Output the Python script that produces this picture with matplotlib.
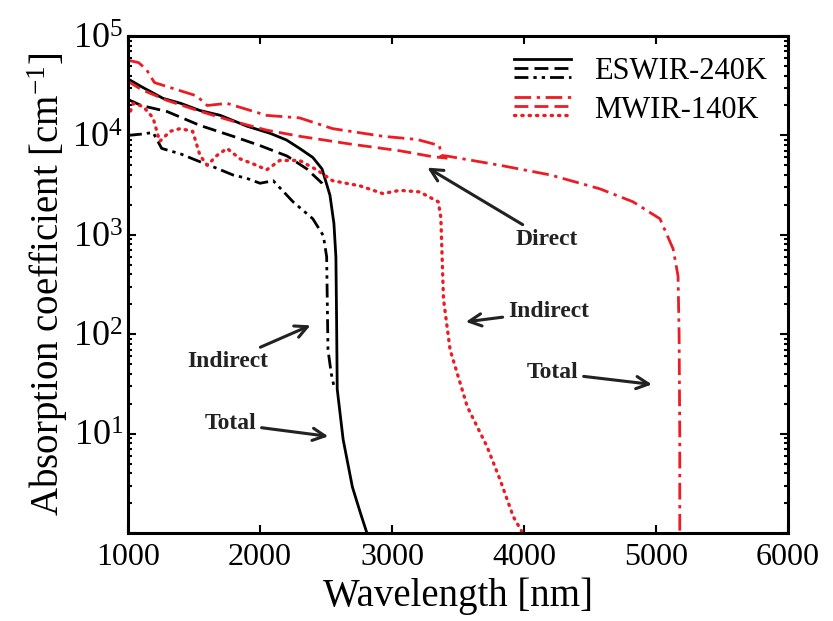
import matplotlib
matplotlib.use("Agg")
import matplotlib.pyplot as plt
from matplotlib.lines import Line2D
from matplotlib.legend_handler import HandlerBase
from matplotlib.ticker import LogLocator, FixedLocator, NullFormatter

plt.rcParams['font.family'] = 'Liberation Serif'
plt.rcParams['mathtext.fontset'] = 'custom'
plt.rcParams['mathtext.rm'] = 'Liberation Serif'
plt.rcParams['mathtext.it'] = 'Liberation Serif:italic'
plt.rcParams['mathtext.bf'] = 'Liberation Serif:bold'

RED = '#ec1c24'

# ESWIR-240K (black)
esw_total_x = [1000, 1100, 1265, 1400, 1545, 1700, 1900, 2076, 2200, 2300, 2400, 2470,
               2530, 2560, 2575, 2580, 2585, 2630, 2700, 2760, 2810]
esw_total_y = [37000, 31000, 23600, 21000, 17800, 15900, 12400, 10500, 9000, 7400, 6000, 4600,
               2500, 1300, 600, 150, 28, 8.7, 2.9, 1.6, 1.0]
esw_direct_x = [1000, 1100, 1295, 1545, 1795, 2000, 2205, 2355, 2470, 2490]
esw_direct_y = [23000, 20000, 17400, 12600, 9800, 7900, 6200, 4600, 3300, 3000]
esw_indirect_x = [1000, 1100, 1190, 1255, 1400, 1520, 1650, 1795, 1900, 2000, 2100, 2250,
                  2400, 2480, 2505, 2510, 2515, 2540, 2560]
esw_indirect_y = [10000, 10300, 10700, 7400, 6500, 5600, 4800, 4000, 3700, 3300, 3500, 2150,
                  1450, 980, 600, 200, 70, 40, 30]

# MWIR-140K (red)
mw_total_x = [1000, 1080, 1140, 1200, 1340, 1520, 1600, 1750, 2050, 2300, 2550, 2930, 3190,
              3360, 3370, 3415, 3820, 4200, 4575, 4825, 5030, 5130, 5167, 5175, 5180, 5180]
mw_total_y = [57000, 54000, 46000, 34000, 29700, 25000, 20000, 21000, 15900, 15000, 11700,
              9800, 9100, 7900, 6300, 6200, 5000, 4000, 2900, 2150, 1450, 720, 385, 100, 10, 1.0]
mw_direct_x = [1000, 1100, 1295, 1545, 1795, 2050, 2300, 2680, 3060, 3310, 3420]
mw_direct_y = [35000, 29000, 22500, 17500, 13900, 11300, 9800, 8200, 7000, 6100, 5900]
mw_indirect_x = [1000, 1040, 1115, 1190, 1240, 1320, 1395, 1490, 1545, 1600, 1675, 1750,
                 1850, 1975, 2050, 2150, 2300, 2430, 2550, 2760, 2930, 3060, 3210, 3350,
                 3370, 3390, 3440, 3570, 3720, 3820, 3920, 3990]
mw_indirect_y = [15000, 21000, 19500, 15000, 8700, 11000, 11700, 11000, 6300, 5000, 6300, 7400,
                 5800, 5000, 4500, 5600, 5600, 4500, 3500, 3100, 2600, 2800, 2700, 2150,
                 1500, 225, 70, 18.7, 7.4, 3.4, 1.45, 1.0]

DASH = (0, (5, 2.2))
DASHDOT = (0, (6, 2, 1.2, 2))
DASHDOTDOT = (0, (5, 1.8, 1.2, 1.8, 1.2, 1.8))
DOT = (0, (0.4, 1.8))


class HandlerStack(HandlerBase):
    """Draw the line styles of a tuple of lines stacked one above the other."""
    def create_artists(self, legend, orig_handle, xdescent, ydescent,
                       width, height, fontsize, trans):
        artists = []
        for i, h in enumerate(orig_handle):
            y = height * (0.95 - 0.42 * i) - ydescent
            ln = Line2D([-xdescent, -xdescent + width], [y, y],
                        color=h.get_color(), linewidth=h.get_linewidth(),
                        dash_capstyle=h.get_dash_capstyle())
            pat = h._unscaled_dash_pattern
            ln.set_linestyle(pat if pat[1] else '-')
            ln.set_transform(trans)
            artists.append(ln)
        return artists


fig = plt.figure(figsize=(8.33, 6.21), dpi=100)
ax = fig.add_axes([128 / 833, 1 - 533 / 621, 660 / 833, 497 / 621])

lw = 2.0
l1, = ax.plot(esw_total_x, esw_total_y, color='black', lw=lw, ls='-')
l2, = ax.plot(esw_direct_x, esw_direct_y, color='black', lw=lw, ls=DASH)
l3, = ax.plot(esw_indirect_x, esw_indirect_y, color='black', lw=lw, ls=DASHDOTDOT)
r1, = ax.plot(mw_total_x, mw_total_y, color=RED, lw=lw, ls=DASHDOT)
r2, = ax.plot(mw_direct_x, mw_direct_y, color=RED, lw=lw, ls=DASH)
r3, = ax.plot(mw_indirect_x, mw_indirect_y, color=RED, lw=lw + 0.4, ls=DOT,
              dash_capstyle='round')

ax.set_yscale('log')
ax.set_xlim(1000, 6000)
ax.set_ylim(1, 1e5)
ax.set_xticks([1000, 2000, 3000, 4000, 5000, 6000])
ax.yaxis.set_major_locator(FixedLocator([1, 10, 100, 1000, 1e4, 1e5]))
ax.yaxis.set_minor_locator(LogLocator(base=10, subs=range(2, 10)))
ax.yaxis.set_minor_formatter(NullFormatter())
ax.set_yticklabels(['', '$10^{1}$', '$10^{2}$', '$10^{3}$', '$10^{4}$', '$10^{5}$'])
ax.tick_params(which='both', direction='in', top=True, right=True, width=1.5)
ax.tick_params(axis='x', labelsize=23, pad=7)
ax.tick_params(axis='y', labelsize=26)
ax.tick_params(which='major', length=6)
ax.tick_params(which='minor', length=3)
for s in ax.spines.values():
    s.set_linewidth(2.2)

ax.set_xlabel('Wavelength [nm]', fontsize=28, labelpad=4)
ax.set_ylabel('Absorption coefficient [cm$^{-1}$]', fontsize=28, labelpad=2)

leg = ax.legend([(l1, l2, l3), (r1, r2, r3)], ['ESWIR-240K', 'MWIR-140K'],
                handler_map={tuple: HandlerStack()}, loc='upper right', frameon=False,
                fontsize=22, handlelength=1.85, handletextpad=0.75, labelspacing=0.3,
                borderaxespad=0.3)

arrow = dict(arrowstyle='->', lw=2.2, color='#222222', mutation_scale=22)
tkw = dict(fontsize=17, fontweight='bold', color='#222222', va='center')
ax.annotate('Direct', xy=(3250, 4900), xytext=(3940, 900), ha='left', arrowprops=arrow, **tkw)
ax.annotate('Indirect', xy=(3538, 132), xytext=(3880, 170), ha='left', arrowprops=arrow, **tkw)
ax.annotate('Total', xy=(4990, 31), xytext=(4410, 41), ha='right', arrowprops=arrow, **tkw)
ax.annotate('Indirect', xy=(2402, 126), xytext=(2060, 53), ha='right', arrowprops=arrow, **tkw)
ax.annotate('Total', xy=(2538, 9.3), xytext=(1970, 12.6), ha='right', arrowprops=arrow, **tkw)

fig.savefig('out.png', dpi=100)
